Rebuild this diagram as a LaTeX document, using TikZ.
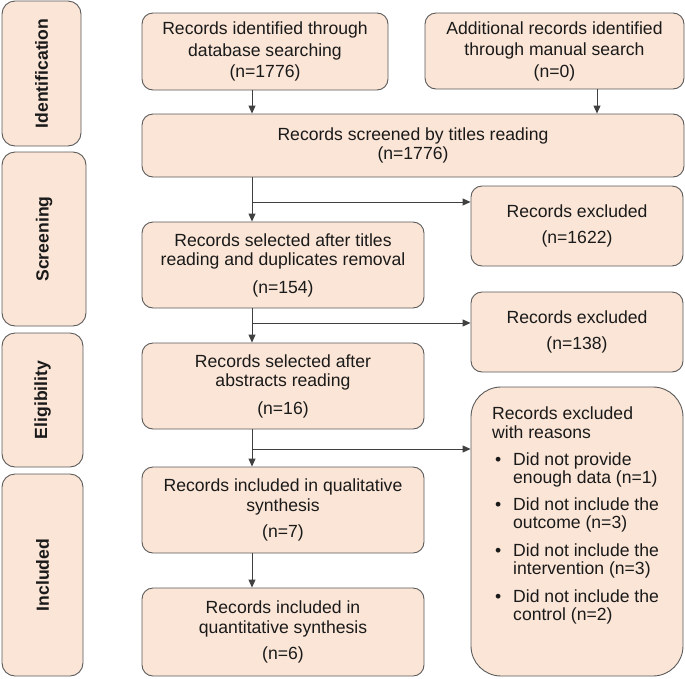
\documentclass[tikz,border=0pt]{standalone}
\usepackage{fontspec}
\setmainfont{Liberation Sans}
\usetikzlibrary{arrows.meta}
\definecolor{boxfill}{HTML}{FBE5D6}
\definecolor{boxline}{HTML}{5A5A5A}
\definecolor{arrline}{HTML}{404040}
\definecolor{txt}{HTML}{1A1A1A}
\begin{document}
\begin{tikzpicture}[x=1pt,y=-1pt,
  every node/.style={text=txt,font=\fontsize{17.6}{19.5}\selectfont},
  box/.style={draw=boxline,fill=boxfill,line width=0.9pt,rounded corners=11pt,align=center,inner sep=2pt},
  side/.style={box,rounded corners=13pt,rotate=90,font=\fontsize{17.6}{19.5}\selectfont\bfseries},
  arr/.style={draw=arrline,line width=0.9pt,-{Triangle[length=8pt,width=7pt]}},
  ltxt/.style={anchor=base west,inner sep=0pt}
]
\useasboundingbox (0,0) rectangle (685,678);

% side stage boxes
\node[side,minimum width=145pt,minimum height=79pt] (sid) at (41.5,73.5) {Identification};
\node[side,minimum width=174pt,minimum height=84pt] (ssc) at (44,239) {Screening};
\node[side,minimum width=134pt,minimum height=81pt] (sel) at (42.5,400) {Eligibility};
\node[side,minimum width=202pt,minimum height=81pt] (sin) at (42.5,575) {Included};

% main boxes
\node[box,minimum width=246pt,minimum height=77pt] (b1) at (265,51.5)
  {Records identified through\\[2pt] database searching\\[2pt] (n=1776)};
\node[box,minimum width=259pt,minimum height=76pt] (b2) at (554.5,51)
  {Additional records identified\\[2pt] through manual search\\[2pt] (n=0)};
\node[box,minimum width=542pt,minimum height=63pt] (b3) at (413,145.5)
  {Records screened by titles reading\\ (n=1776)};
\node[box,minimum width=282pt,minimum height=86pt] (b4) at (283,265)
  {Records selected after titles\\ reading and duplicates removal\\[8pt] (n=154)};
\node[box,minimum width=212pt,minimum height=80pt] (e1) at (577,226)
  {Records excluded\\[7pt] (n=1622)};
\node[box,minimum width=212pt,minimum height=80pt] (e2) at (577,332)
  {Records excluded\\[7pt] (n=138)};
\node[box,minimum width=282pt,minimum height=86pt] (b5) at (283,386)
  {Records selected after\\ abstracts reading\\[8pt] (n=16)};
\node[box,rounded corners=30pt,minimum width=212pt,minimum height=289pt] (e3) at (577,531.5) {};
\node[box,minimum width=282pt,minimum height=86pt] (b6) at (283,510)
  {Records included in qualitative\\ synthesis\\[7pt] (n=7)};
\node[box,minimum width=282pt,minimum height=88pt] (b7) at (283,632)
  {Records included in\\ quantitative synthesis\\[7pt] (n=6)};

% text of the reasons box
\node[ltxt] (r1) at (492,419) {Records excluded};
\node[ltxt] (r2) at (492,438) {with reasons};
\node[ltxt] (k1) at (495,465) {\textbullet};
\node[ltxt] (r3) at (513,465) {Did not provide};
\node[ltxt] (r4) at (513,483) {enough data (n=1)};
\node[ltxt] (k2) at (495,510) {\textbullet};
\node[ltxt] (r5) at (513,510) {Did not include the};
\node[ltxt] (r6) at (513,528) {outcome (n=3)};
\node[ltxt] (k3) at (495,556) {\textbullet};
\node[ltxt] (r7) at (513,556) {Did not include the};
\node[ltxt] (r8) at (513,574) {intervention (n=3)};
\node[ltxt] (k4) at (495,602) {\textbullet};
\node[ltxt] (r9) at (513,602) {Did not include the};
\node[ltxt] (r10) at (513,620) {control (n=2)};

% connector coordinates
\coordinate (tx) at (252,0);
\coordinate (ux) at (597,0);
\coordinate (br1) at (252,202);
\coordinate (br2) at (252,323);
\coordinate (br3) at (252,449);

% connectors
\draw[arr] (b1.south -| tx) -- (b3.north -| tx);
\draw[arr] (b2.south -| ux) -- (b3.north -| ux);
\draw[arr] (b3.south -| tx) -- (b4.north -| tx);
\draw[arr] (br1) -- (br1 -| e1.west);
\draw[arr] (b4.south -| tx) -- (b5.north -| tx);
\draw[arr] (br2) -- (br2 -| e2.west);
\draw[arr] (b5.south -| tx) -- (b6.north -| tx);
\draw[arr] (br3) -- (br3 -| e3.west);
\draw[arr] (b6.south -| tx) -- (b7.north -| tx);
\end{tikzpicture}
\end{document}
